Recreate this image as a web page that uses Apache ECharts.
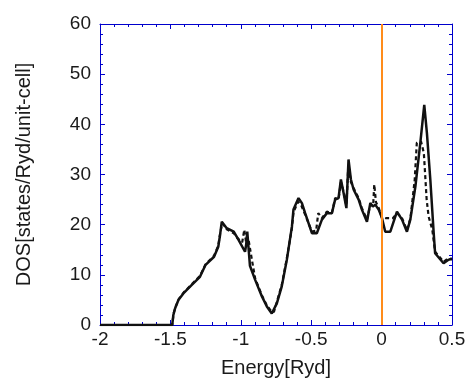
<!DOCTYPE html>
<html>
<head>
<meta charset="utf-8">
<script src="https://cdn.jsdelivr.net/npm/echarts@6/dist/echarts.min.js"></script>
<style>
  html, body { margin: 0; padding: 0; background: #fff; }
  #chart { width: 466px; height: 378px; }
</style>
</head>
<body>
<div id="chart"></div>
<script>
// DOS curves (energy in Ryd, DOS in states/Ryd/unit-cell)
var solidE = [-2, -1.487, -1.479, -1.467, -1.443, -1.408, -1.348, -1.29, -1.25, -1.19, -1.16, -1.147, -1.135, -1.10, -1.05, -1.017, -0.97, -0.962, -0.954, -0.935, -0.898, -0.85, -0.815, -0.78, -0.768, -0.744, -0.709, -0.673, -0.637, -0.626, -0.59, -0.566, -0.543, -0.495, -0.46, -0.424, -0.389, -0.353, -0.33, -0.306, -0.289, -0.27, -0.25, -0.235, -0.218, -0.199, -0.163, -0.14, -0.104, -0.08, -0.062, -0.045, -0.021, 0, 0.026, 0.062, 0.109, 0.145, 0.18, 0.204, 0.24, 0.275, 0.303, 0.322, 0.346, 0.37, 0.38, 0.41, 0.44, 0.475, 0.5];
var solidDos = [0, 0, 2, 3.3, 5, 6.3, 8, 9.6, 12, 13.6, 15.6, 18, 20.6, 19.3, 18.6, 17, 14.6, 16, 18.6, 11.8, 9, 5.7, 3.7, 2.3, 2, 4.3, 7.7, 13, 19.6, 23, 25.3, 24.3, 22.3, 18.3, 18.3, 21, 22.3, 22.3, 25, 25.3, 29, 26.3, 23.3, 33, 29, 27, 25, 23, 20.6, 24.3, 23.6, 24, 23, 21.6, 18.6, 18.6, 22.6, 21, 18.6, 21, 27.6, 36.3, 43.9, 38.2, 29, 18.3, 14.3, 13.3, 12.3, 13, 13.3];

var dashE = [-2, -1.487, -1.478, -1.465, -1.44, -1.405, -1.345, -1.29, -1.25, -1.19, -1.16, -1.147, -1.132, -1.10, -1.05, -1.02, -0.99, -0.975, -0.96, -0.945, -0.92, -0.898, -0.85, -0.815, -0.78, -0.765, -0.744, -0.709, -0.673, -0.637, -0.626, -0.592, -0.57, -0.543, -0.495, -0.465, -0.45, -0.424, -0.389, -0.353, -0.33, -0.306, -0.289, -0.27, -0.25, -0.236, -0.218, -0.199, -0.163, -0.14, -0.104, -0.08, -0.06, -0.052, -0.04, -0.02, 0, 0.03, 0.08, 0.11, 0.145, 0.18, 0.205, 0.235, 0.25, 0.28, 0.3, 0.32, 0.334, 0.36, 0.38, 0.41, 0.44, 0.475, 0.5];
var dashDos = [0, 0, 2.2, 3.5, 5.2, 6.5, 8.2, 9.8, 12.1, 13.8, 15.8, 18.2, 20.3, 19.1, 18.3, 17.2, 16.5, 19, 16, 17, 12.8, 9.3, 5.9, 3.9, 2.6, 2.6, 4.6, 8, 13.3, 19.3, 22.5, 24.6, 23.8, 22, 18.6, 18.8, 22.3, 21.3, 22.6, 22.3, 25.3, 25, 28.5, 26.6, 23.8, 32, 28.5, 27.3, 25.3, 23.3, 21, 24, 23.8, 28, 24.5, 23.3, 21.5, 21.3, 21.3, 22.3, 21.3, 18.9, 21.3, 28.9, 36.3, 36.6, 34.3, 25, 21.6, 19, 14.6, 13.6, 12.6, 13.3, 13];

var fermiLevel = 0;

function pairs(xs, ys) {
  return xs.map(function (x, i) { return [x, ys[i]]; });
}

(function () {
  var myChart = echarts.init(document.getElementById('chart'));
  var blue = '#0000cc';
  var font = 'Liberation Sans, Arial, Helvetica, sans-serif';

  var frameX = {
    type: 'value', min: -2, max: 0.5, interval: 0.5,
    axisLine: { show: true, onZero: false, lineStyle: { color: blue, width: 1 } },
    axisTick: { show: true, inside: true, length: 5, lineStyle: { color: blue } },
    minorTick: { show: true, splitNumber: 5, length: 3, lineStyle: { color: blue } },
    splitLine: { show: false }
  };
  var frameY = {
    type: 'value', min: 0, max: 60, interval: 10,
    axisLine: { show: true, onZero: false, lineStyle: { color: blue, width: 1 } },
    axisTick: { show: true, inside: true, length: 5, lineStyle: { color: blue } },
    minorTick: { show: true, splitNumber: 5, length: 3, lineStyle: { color: blue } },
    splitLine: { show: false }
  };

  option = {
    animation: false,
    grid: { left: 100, right: 14, top: 24, bottom: 53, containLabel: false, outerBoundsMode: 'none' },
    xAxis: [
      Object.assign({}, frameX, {
        position: 'bottom',
        name: 'Energy[Ryd]', nameLocation: 'middle', nameGap: 33,
        nameTextStyle: { color: '#1a1a1a', fontSize: 20, fontFamily: font },
        axisLabel: { color: '#1a1a1a', fontSize: 19, fontFamily: font, margin: 5 }
      }),
      Object.assign({}, frameX, { position: 'top', axisLabel: { show: false } })
    ],
    yAxis: [
      Object.assign({}, frameY, {
        position: 'left',
        name: 'DOS[states/Ryd/unit-cell]', nameLocation: 'middle', nameGap: 66,
        nameTextStyle: { color: '#1a1a1a', fontSize: 20, fontFamily: font },
        axisLabel: { color: '#1a1a1a', fontSize: 19, fontFamily: font, margin: 9 }
      }),
      Object.assign({}, frameY, { position: 'right', axisLabel: { show: false } })
    ],
    series: [
      {
        type: 'line', xAxisIndex: 0, yAxisIndex: 0,
        data: pairs(dashE, dashDos),
        showSymbol: false,
        lineStyle: { color: '#111', width: 2.2, type: [4, 3] }
      },
      {
        type: 'line', xAxisIndex: 0, yAxisIndex: 0,
        data: pairs(solidE, solidDos),
        showSymbol: false,
        lineStyle: { color: '#111', width: 2.5 },
        markLine: {
          silent: true, symbol: 'none', label: { show: false },
          lineStyle: { color: '#ff8c1a', width: 2, type: 'solid' },
          data: [{ xAxis: fermiLevel }]
        }
      }
    ]
  };

  myChart.setOption(option);
})();
</script>
</body>
</html>
